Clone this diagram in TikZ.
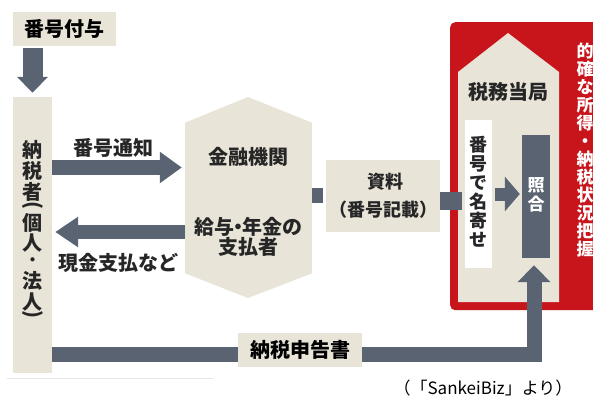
\documentclass[tikz,border=0pt]{standalone}
\usepackage{fontspec}
\newfontfamily\jp{Noto Sans CJK JP}
\usetikzlibrary{arrows.meta}
\definecolor{beige}{HTML}{E8E4D8}
\definecolor{slate}{HTML}{5A6372}
\definecolor{redc}{HTML}{C8141B}
\begin{document}
\begin{tikzpicture}[x=1pt,y=-1pt,
  box/.style={fill=beige, inner sep=0pt, font=\jp\bfseries\fontsize{20}{22}\selectfont},
  lbl/.style={inner sep=0pt, font=\jp\bfseries\fontsize{20}{22}\selectfont, text=black!85},
  flow/.style={draw=slate, line cap=butt}
]
\useasboundingbox (0,0) rectangle (593,401);
\fill[white] (0,0) rectangle (593,401);

% left column
\node[box, minimum width=103pt, minimum height=34pt] (assign) at (64.5,29) {番号付与};
\node[box, minimum width=39pt, minimum height=276pt] (taxpayer) at (32.5,235) {};
\foreach \ch/\yy [count=\i] in {納/150, 税/171, 者/192, {\rotatebox[origin=c]{-90}{(}}/207, 個/223, 人/243, {\fontsize{15}{15}\selectfont ・}/262, 法/281, 人/302, {\rotatebox[origin=c]{-90}{)}}/316}
  \node[lbl] (tp\i) at (32.5,\yy) {\ch};
\draw[gray!20, line width=1pt] (7,378) -- (213,378);

% bank hexagon
\node[fill=beige, inner sep=0pt, minimum width=127pt, minimum height=150pt] (bank) at (248.5,198) {};
\fill[beige] (bank.north west) -- (248,97) -- (bank.north east) -- cycle;
\fill[beige] (bank.south west) -- (248,298) -- (bank.south east) -- cycle;
\node[lbl] (banktitle) at (248,157) {金融機関};
\node[lbl, align=center, font=\jp\bfseries\fontsize{20}{20}\selectfont] (payer) at (248,237) {給与\kern-0.3em・\kern-0.3em年金の\\支払者};

% document box
\node[box, minimum width=114pt, minimum height=72pt] (doc) at (383,196) {};
\node[lbl, font=\jp\bfseries\fontsize{18}{20}\selectfont] (doctitle) at (385,182) {資料};
\node[lbl, font=\jp\bfseries\fontsize{18}{20}\selectfont] (docnote) at (383,210) {（番号記載）};

% tax office panel
\node[fill=redc, rounded corners=5pt, inner sep=0pt, minimum width=160pt, minimum height=288pt, anchor=north west] (office) at (450,22) {};
\fill[beige] (458,72) -- (508,33) -- (559,72) -- (559,302) -- (458,302) -- cycle;
\node[lbl] (officetitle) at (508,92) {税務当局};
\node[fill=white, inner sep=0pt, minimum width=27pt, minimum height=148pt] (nayose) at (478.5,194) {};
\node[lbl, align=center, font=\jp\bfseries\fontsize{18}{19}\selectfont] (nayosetext) at (478.5,192) {番\\号\\で\\名\\寄\\せ};
\node[fill=slate, inner sep=0pt, minimum width=28pt, minimum height=123pt] (check) at (536,196.5) {};
\node[lbl, align=center, text=white, font=\jp\bfseries\fontsize{17}{19}\selectfont] (checktext) at (536,195) {照\\合};
\node[align=center, inner sep=0pt, text=white, font=\jp\bfseries\fontsize{17}{18}\selectfont] (goal) at (585,150)
  {的\\確\\な\\所\\得\\・\\納\\税\\状\\況\\把\\握};

% connectors
\draw[flow, line width=20pt, -{Triangle[length=16pt,width=30pt]}]
  ([yshift=-2pt]taxpayer.north |- assign.south) -- ([yshift=4pt]taxpayer.north);
\draw[flow, line width=15pt, -{Triangle[length=22pt,width=30pt]}]
  (taxpayer.east |- 0,167.5) -- ([xshift=-3pt]bank.west |- 0,167.5);
\node[lbl] (notice) at (113,148) {番号通知};
\draw[flow, line width=14pt, -{Triangle[length=23pt,width=29pt]}]
  (bank.west |- 0,232) -- ([xshift=3pt]taxpayer.east |- 0,232);
\node[lbl] (cash) at (118,263) {現金支払など};
\draw[flow, line width=15pt] (bank.east |- 0,195.5) -- ([xshift=-3pt]doc.west |- 0,195.5);
\draw[flow, line width=18pt] (doc.east |- 0,201) -- ([xshift=-3pt]nayose.west |- 0,201);
\draw[flow, line width=13pt, -{Triangle[length=15pt,width=34pt]}]
  ([xshift=3pt]nayose.east |- 0,194) -- ([xshift=-2pt]check.west |- 0,194);
\draw[flow, line width=15pt, line join=miter, -{Triangle[length=17pt,width=32pt]}]
  (taxpayer.east |- 0,354.5) -- ([xshift=-2pt]check.south |- 0,354.5) -- ([xshift=-2pt,yshift=-7pt]check.south);
\node[box, minimum width=124pt, minimum height=34pt] (report) at (300,350) {納税申告書};

\node[inner sep=0pt, font=\jp\fontsize{17}{20}\selectfont] (credit) at (483,388) {（「SankeiBiz」より）};
\end{tikzpicture}
\end{document}
